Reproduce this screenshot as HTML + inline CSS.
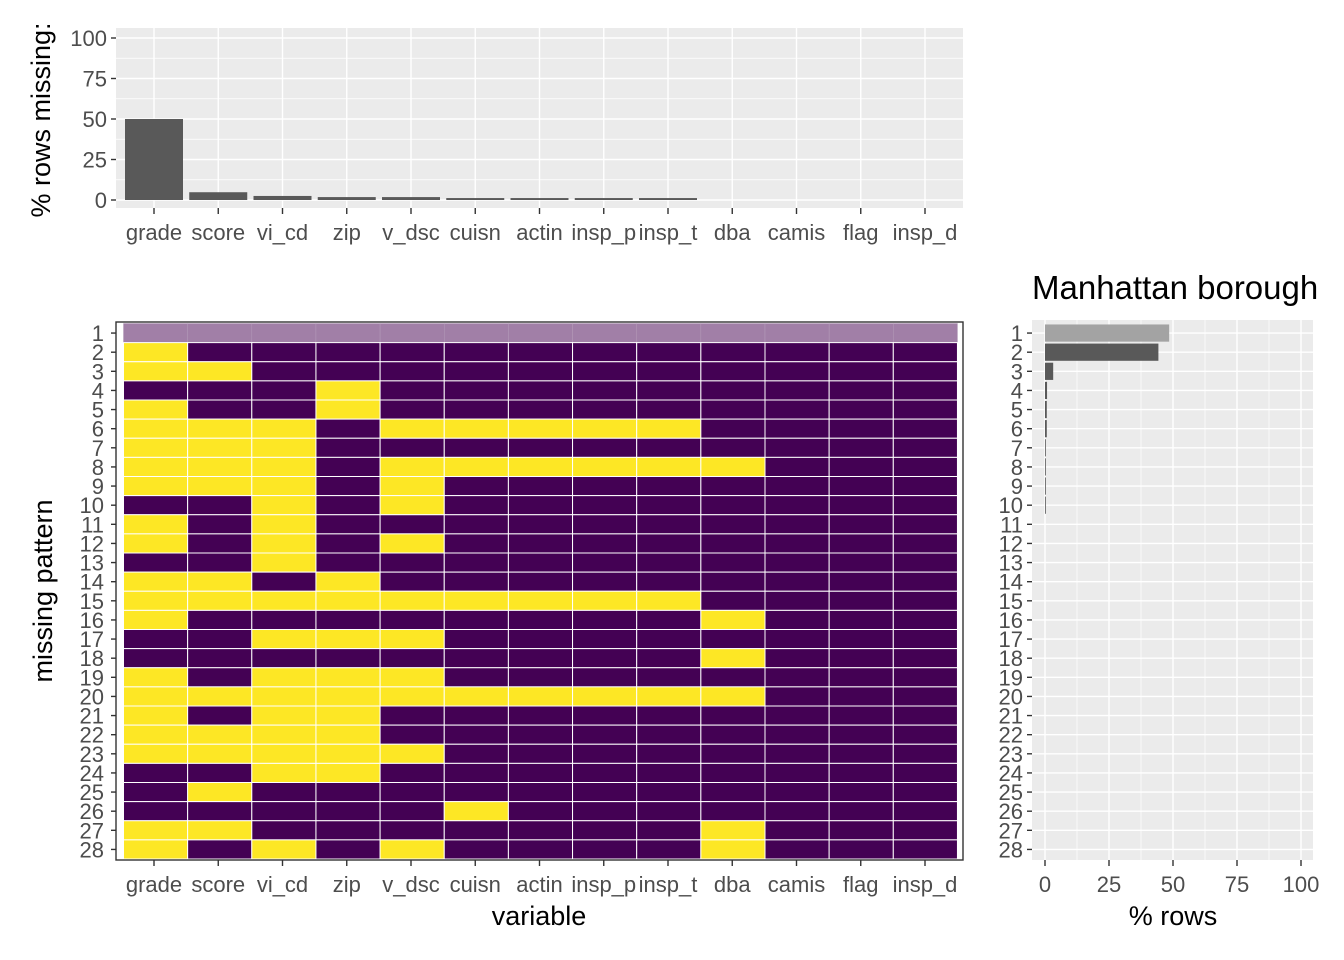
<!DOCTYPE html>
<html><head><meta charset="utf-8"><style>
html,body{margin:0;padding:0;background:#fff;}
svg{display:block;font-family:"Liberation Sans",sans-serif;}
</style></head><body>
<svg id="chart" width="1344" height="960" viewBox="0 0 1344 960">
<g id="topPanel"></g>
<g id="heatPanel"></g>
<g id="rightPanel"></g>
<text x="50" y="120" transform="rotate(-90 50 120)" text-anchor="middle" font-size="27" fill="#000">% rows missing:</text>
<text x="52" y="591" transform="rotate(-90 52 591)" text-anchor="middle" font-size="27" fill="#000">missing pattern</text>
<text x="539" y="925" text-anchor="middle" font-size="27" fill="#000">variable</text>
<text x="1173" y="925" text-anchor="middle" font-size="27" fill="#000">% rows</text>
<text x="1032" y="299" font-size="33" fill="#000">Manhattan borough</text>
</svg>
<script>
const variables = ["grade","score","vi_cd","zip","v_dsc","cuisn","actin","insp_p","insp_t","dba","camis","flag","insp_d"];
const pctMissing = [50,4.8,2.5,1.8,1.8,1.2,1.2,1.2,1.2,0,0,0,0];
const topTicks = [0,25,50,75,100];
const patterns = [
"1111111111111",
"1000000000000",
"1100000000000",
"0001000000000",
"1001000000000",
"1110111110000",
"1110000000000",
"1110111111000",
"1110100000000",
"0010100000000",
"1010000000000",
"1010100000000",
"0010000000000",
"1101000000000",
"1111111110000",
"1000000001000",
"0011100000000",
"0000000001000",
"1011100000000",
"1111111111000",
"1011000000000",
"1111000000000",
"1111100000000",
"0011000000000",
"0100000000000",
"0000010000000",
"1100000001000",
"1010100001000"];
const patternPct = [48.5,44.3,3.2,0.8,0.7,0.7,0.3,0.3,0.2,0.2,0,0,0,0,0,0,0,0,0,0,0,0,0,0,0,0,0,0];
const rightTicks = [0,25,50,75,100];

const NS="http://www.w3.org/2000/svg";
function mk(parent,tag,attrs){const e=document.createElementNS(NS,tag);for(const k in attrs)e.setAttribute(k,attrs[k]);parent.appendChild(e);return e;}
const FS=22;

// ---- top bar chart ----
const topG=document.getElementById('topPanel');
const tX0=116,tX1=963,tY0=28,tY1=208;
const colX=i=>154+i*64.25;
const tY=v=>200-v*1.62;
mk(topG,'rect',{x:tX0,y:tY0,width:tX1-tX0,height:tY1-tY0,fill:'#ebebeb'});
for(let i=0;i<4;i++){const v=(topTicks[i]+topTicks[i+1])/2;mk(topG,'line',{x1:tX0,x2:tX1,y1:tY(v),y2:tY(v),stroke:'#fff','stroke-width':0.7});}
topTicks.forEach(v=>{
  mk(topG,'line',{x1:tX0,x2:tX1,y1:tY(v),y2:tY(v),stroke:'#fff','stroke-width':1.4});
  mk(topG,'line',{x1:tX0-5,x2:tX0,y1:tY(v),y2:tY(v),stroke:'#333','stroke-width':1.4});
  const t=mk(topG,'text',{x:tX0-9,y:tY(v)+8,'text-anchor':'end','font-size':FS,fill:'#4d4d4d'});t.textContent=v;
  
  
});
variables.forEach((n,i)=>{
  mk(topG,'line',{x1:colX(i),x2:colX(i),y1:tY0,y2:tY1,stroke:'#fff','stroke-width':1.4});
});
variables.forEach((n,i)=>{
  const h=pctMissing[i]*1.62;
  const b=mk(topG,'rect',{x:colX(i)-29,y:tY(pctMissing[i]),width:58,height:h,fill:'#595959'});
  
  
  mk(topG,'line',{x1:colX(i),x2:colX(i),y1:tY1,y2:tY1+6,stroke:'#333','stroke-width':1.4});
  const t=mk(topG,'text',{x:colX(i),y:240,'text-anchor':'middle','font-size':FS,fill:'#4d4d4d'});t.textContent=n;
  
  
});

// ---- heatmap ----
const heatG=document.getElementById('heatPanel');
const hX0=123.5,cw=64.15,hY0=323.5,rh=(859-323.5)/28;
patterns.forEach((p,r)=>{
  const y=hY0+r*rh;
  for(let c=0;c<variables.length;c++){
    let fill = p[c]==='1'?'#fde725':'#440154';
    if(r===0) fill='#a17fa7';
    const cell=mk(heatG,'rect',{x:hX0+c*cw,y:y,width:cw,height:rh,fill:fill,stroke:r===0?'#b49bb9':'#fff','stroke-width':r===0?0.5:1});
    
    
  }
  mk(heatG,'line',{x1:111,x2:116,y1:y+rh/2,y2:y+rh/2,stroke:'#333','stroke-width':1.4});
  const t=mk(heatG,'text',{x:104,y:y+rh/2+8,'text-anchor':'end','font-size':FS,fill:'#4d4d4d'});t.textContent=r+1;
  
  
});
mk(heatG,'rect',{x:116,y:322,width:847,height:538,fill:'none',stroke:'#333','stroke-width':1.4});
variables.forEach((n,i)=>{
  const x=colX(i);
  mk(heatG,'line',{x1:x,x2:x,y1:860,y2:866,stroke:'#333','stroke-width':1.4});
  const t=mk(heatG,'text',{x:x,y:892,'text-anchor':'middle','font-size':FS,fill:'#4d4d4d'});t.textContent=n;
  
  
});

// ---- right bar chart ----
const rightG=document.getElementById('rightPanel');
const rX0=1032,rX1=1313,rY0=320,rY1=860;
const rX=v=>1045+v*2.56;
mk(rightG,'rect',{x:rX0,y:rY0,width:rX1-rX0,height:rY1-rY0,fill:'#ebebeb'});
for(let i=0;i<4;i++){const v=(rightTicks[i]+rightTicks[i+1])/2;mk(rightG,'line',{x1:rX(v),x2:rX(v),y1:rY0,y2:rY1,stroke:'#fff','stroke-width':0.7});}
rightTicks.forEach(v=>{
  mk(rightG,'line',{x1:rX(v),x2:rX(v),y1:rY0,y2:rY1,stroke:'#fff','stroke-width':1.4});
  mk(rightG,'line',{x1:rX(v),x2:rX(v),y1:rY1,y2:rY1+6,stroke:'#333','stroke-width':1.4});
  const t=mk(rightG,'text',{x:rX(v),y:892,'text-anchor':'middle','font-size':FS,fill:'#4d4d4d'});t.textContent=v;
  
  
});
patternPct.forEach((v,r)=>{
  const yc=hY0+r*rh+rh/2;
  mk(rightG,'line',{x1:rX0,x2:rX1,y1:yc,y2:yc,stroke:'#fff','stroke-width':1.4});
});
patternPct.forEach((v,r)=>{
  const yc=hY0+r*rh+rh/2;
  if(v>0){
    const b=mk(rightG,'rect',{x:rX(0),y:yc-rh*0.45,width:Math.max(v*2.56,0.8),height:rh*0.9,fill:r===0?'#a3a3a3':'#595959'});
    
    
  }
  mk(rightG,'line',{x1:rX0-5,x2:rX0,y1:yc,y2:yc,stroke:'#333','stroke-width':1.4});
  const t=mk(rightG,'text',{x:rX0-9,y:yc+8,'text-anchor':'end','font-size':FS,fill:'#4d4d4d'});t.textContent=r+1;
  
  
});
</script>
</body></html>
